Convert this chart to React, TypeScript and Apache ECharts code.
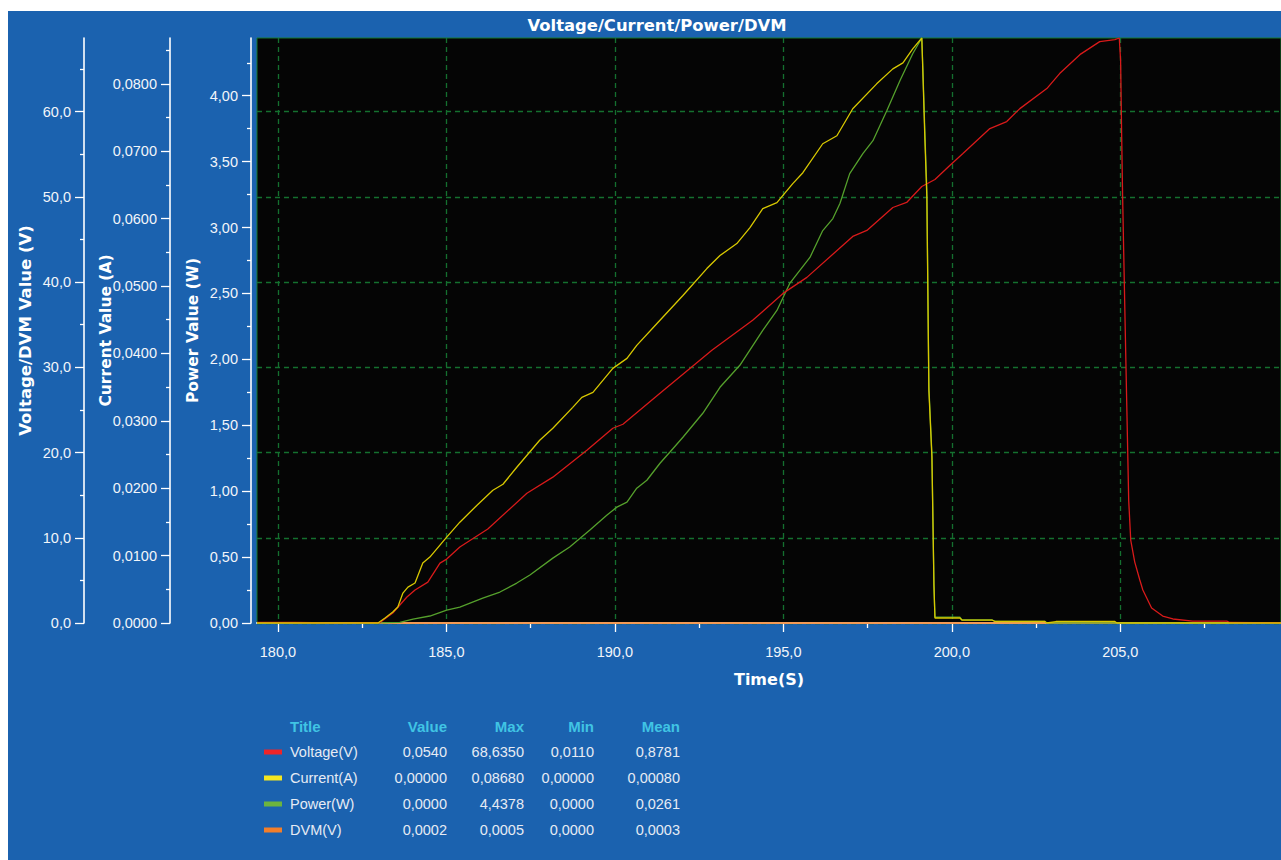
import React, { useEffect, useRef } from "react";
import * as echarts from "echarts";

// ---- time axis ----
const TIME_MIN = 179.38;
const TIME_MAX = 209.77;
const timeTicks = [180, 185, 190, 195, 200, 205];
const timeMinorTicks = [182.5, 187.5, 192.5, 197.5, 202.5, 207.5];

// ---- y axis ticks ----
const powerTicks = [0, 0.5, 1, 1.5, 2, 2.5, 3, 3.5, 4];
const powerMinorTicks = [0.25, 0.75, 1.25, 1.75, 2.25, 2.75, 3.25, 3.75, 4.25];
const currentTicks = [0, 0.01, 0.02, 0.03, 0.04, 0.05, 0.06, 0.07, 0.08];
const currentMinorTicks = [0.005, 0.015, 0.025, 0.035, 0.045, 0.055, 0.065, 0.075, 0.085];
const voltageTicks = [0, 10, 20, 30, 40, 50, 60];
const voltageMinorTicks = [5, 15, 25, 35, 45, 55, 65];

// ---- samples: [time (s), value] ----
const voltageSamples: [number, number][] = [
  [179.38, 0.08], [180.5, 0.06], [181.6, 0.011], [182.7, 0.05], [183.03, 0.05],
  [183.41, 1.17], [183.83, 3.05], [184.07, 3.87], [184.45, 4.8], [184.81, 7.03],
  [185.01, 7.5], [185.4, 8.91], [186.23, 11.02], [187.39, 15.23], [188.16, 17.11],
  [189.17, 20.27], [189.94, 22.85], [190.24, 23.32], [191.34, 26.95], [192.88, 31.99],
  [194.09, 35.51], [194.99, 38.67], [195.7, 40.55], [197.06, 45.35], [197.48, 46.06],
  [198.25, 48.75], [198.66, 49.34], [199.11, 51.21], [199.5, 52.03], [199.94, 53.67],
  [200.33, 55.08], [201.13, 58.01], [201.63, 58.83], [202.02, 60.35], [202.82, 62.7],
  [203.2, 64.46], [203.8, 66.68], [204.39, 68.21], [204.84, 68.44], [204.97, 68.635],
  [205.01, 65.98], [205.04, 57.54], [205.07, 49.92], [205.13, 37.85], [205.19, 26.13],
  [205.25, 14.41], [205.31, 9.73], [205.43, 7.15], [205.58, 5.04], [205.67, 3.87],
  [205.93, 1.76], [206.26, 0.82], [206.56, 0.47], [207.15, 0.23], [208.16, 0.23],
  [208.25, 0.06], [209.0, 0.05], [209.77, 0.054],
];

const currentSamples: [number, number][] = [
  [179.38, 0], [182.97, 0], [183.18, 0.00074], [183.41, 0.00163], [183.56, 0.00237],
  [183.71, 0.00444], [183.86, 0.00533], [184.07, 0.00593], [184.3, 0.00889], [184.51, 0.00978],
  [184.81, 0.01156], [185.01, 0.01274], [185.4, 0.01496], [185.91, 0.01748], [186.38, 0.0197],
  [186.68, 0.02059], [187.09, 0.02311], [187.77, 0.02711], [188.16, 0.02889], [188.75, 0.032],
  [189.02, 0.03348], [189.35, 0.03422], [189.94, 0.03778], [190.36, 0.03926], [190.65, 0.04119],
  [191.25, 0.04444], [192.02, 0.04859], [192.73, 0.05259], [193.12, 0.05452], [193.62, 0.0563],
  [194.01, 0.05867], [194.39, 0.06148], [194.81, 0.06237], [195.28, 0.06519], [195.58, 0.06681],
  [196.17, 0.07111], [196.59, 0.0723], [197.06, 0.0763], [197.77, 0.08], [198.25, 0.08222],
  [198.55, 0.08311], [198.84, 0.08519], [199.11, 0.0868], [199.14, 0.08193], [199.2, 0.072],
  [199.26, 0.06311], [199.32, 0.03452], [199.41, 0.02459], [199.44, 0.01526], [199.47, 0.00563],
  [199.5, 0.00074], [200.24, 0.00074], [200.3, 0.00044], [201.19, 0.00044], [201.28, 0.00022],
  [202.76, 0.00022], [202.82, 0], [203.09, 0.00022], [204.84, 0.00022], [204.9, 0], [209.77, 0],
];

const powerSamples: [number, number][] = [
  [179.38, 0], [183.0, 0], [183.62, 0.004], [184.01, 0.03], [184.51, 0.053],
  [185.01, 0.098], [185.4, 0.121], [186.08, 0.189], [186.59, 0.235], [187.09, 0.303],
  [187.48, 0.364], [188.16, 0.492], [188.66, 0.576], [189.26, 0.705], [189.76, 0.818],
  [190.06, 0.879], [190.36, 0.917], [190.65, 1.023], [190.95, 1.083], [191.34, 1.212],
  [191.63, 1.295], [192.02, 1.409], [192.61, 1.591], [193.12, 1.788], [193.71, 1.955],
  [194.39, 2.22], [194.81, 2.371], [195.19, 2.576], [195.79, 2.773], [196.17, 2.977],
  [196.47, 3.068], [196.68, 3.182], [196.97, 3.409], [197.36, 3.561], [197.66, 3.659],
  [198.07, 3.886], [198.46, 4.114], [198.84, 4.318], [199.11, 4.4378], [199.14, 4.22],
  [199.2, 3.73], [199.26, 3.28], [199.32, 1.79], [199.41, 1.28], [199.44, 0.79],
  [199.47, 0.29], [199.5, 0.045], [200.24, 0.045], [200.3, 0.024], [201.19, 0.024],
  [201.28, 0.013], [202.76, 0.013], [202.82, 0], [209.77, 0],
];

const dvmSamples: [number, number][] = [
  [179.38, 0.0003], [182.0, 0.0002], [185.5, 0.0004], [189.0, 0.0005], [193.0, 0.0003],
  [197.0, 0.0002], [201.0, 0.0], [205.0, 0.0003], [209.77, 0.0002],
];

// ---- statistics table ----
const tableHeaders = ["Title", "Value", "Max", "Min", "Mean"];
const seriesNames = ["Voltage(V)", "Current(A)", "Power(W)", "DVM(V)"];
const lastValues = ["0,0540", "0,00000", "0,0000", "0,0002"];
const maxValues = ["68,6350", "0,08680", "4,4378", "0,0005"];
const minValues = ["0,0110", "0,00000", "0,0000", "0,0000"];
const meanValues = ["0,8781", "0,00080", "0,0261", "0,0003"];

const lineColors = ["#d81a1a", "#d8c800", "#55a02c", "#f07a1e"];
const swatchColors = ["#ee2428", "#f4e620", "#6cb43e", "#f27e2a"];

const BLUE = "#1b62af";
const WHITE_TEXT = "#f2f5fa";
const GRID_GREEN = "#14702f";

const peak = (s: [number, number][]) => Math.max(...s.map((p) => p[1]));
const voltageMax = Math.max(peak(voltageSamples), peak(dvmSamples));
const currentMax = peak(currentSamples);
const powerMax = peak(powerSamples);

const comma = (digits: number) => (v: number) => v.toFixed(digits).replace(".", ",");

const tickFont = {
  color: WHITE_TEXT,
  fontFamily: "'Liberation Sans', Arial, sans-serif",
  fontSize: 14.5,
};
const nameFont = {
  color: "#ffffff",
  fontFamily: "'DejaVu Sans', sans-serif",
  fontWeight: "bold" as const,
  fontSize: 15.5,
};

function leftAxes(
  offset: number,
  max: number,
  ticks: number[],
  minorTicks: number[],
  interval: number,
  digits: number,
  name: string,
  nameGap: number,
  nameSize: number,
  split: boolean
) {
  return [
    {
      type: "value",
      position: "left",
      offset,
      min: 0,
      max,
      interval,
      name,
      nameLocation: "middle",
      nameGap,
      nameMoveOverlap: false,
      nameTextStyle: { ...nameFont, fontSize: nameSize },
      axisLine: { show: true, lineStyle: { color: "#ffffff", width: 1.6 } },
      axisTick: { show: true, customValues: ticks, length: 9, lineStyle: { color: "#ffffff", width: 1.3 } },
      axisLabel: { show: true, customValues: ticks, margin: 13, formatter: comma(digits), ...tickFont },
      splitLine: split
        ? { show: true, lineStyle: { color: GRID_GREEN, type: [5, 4], width: 1.3 } }
        : { show: false },
    },
    {
      type: "value",
      position: "left",
      offset,
      min: 0,
      max,
      interval,
      axisLine: { show: false },
      axisTick: { show: true, customValues: minorTicks, length: 4, lineStyle: { color: "#ffffff", width: 1.3 } },
      axisLabel: { show: false },
      splitLine: { show: false },
    },
  ];
}

function buildTable() {
  const colRight = [439, 516, 586, 672];
  const headerY = 715;
  const rowStep = 26;
  const nameX = 282;
  const els: any[] = [];
  tableHeaders.forEach((h, i) => {
    els.push({
      type: "text",
      x: i === 0 ? nameX : colRight[i - 1],
      y: headerY,
      style: {
        text: h,
        fill: "#40c4e4",
        fontFamily: "'Liberation Sans', Arial, sans-serif",
        fontWeight: "bold",
        fontSize: 15,
        align: i === 0 ? "left" : "right",
        verticalAlign: "middle",
      },
    });
  });
  const cols = [lastValues, maxValues, minValues, meanValues];
  seriesNames.forEach((n, r) => {
    const y = headerY + rowStep * (r + 1);
    els.push({
      type: "rect",
      shape: { x: 256, y: y - 2.5, width: 18, height: 5 },
      style: { fill: swatchColors[r] },
    });
    els.push({
      type: "text",
      x: nameX,
      y,
      style: { text: n, fill: "#e6ebf4", ...tickFont, fontSize: 14.5, align: "left", verticalAlign: "middle" },
    });
    cols.forEach((col, c) => {
      els.push({
        type: "text",
        x: colRight[c],
        y,
        style: { text: col[r], fill: "#e6ebf4", ...tickFont, fontSize: 14.5, align: "right", verticalAlign: "middle" },
      });
    });
  });
  return els;
}

export default function App() {
  const ref = useRef<HTMLDivElement>(null);

  useEffect(() => {
    if (!ref.current) return;
    const chart = echarts.init(ref.current, undefined, { renderer: "svg" });

    const lineSeries = (name: string, data: [number, number][], yAxisIndex: number, color: string, clip = true) => ({
      name,
      type: "line",
      data,
      xAxisIndex: 0,
      yAxisIndex,
      showSymbol: false,
      symbol: "none",
      silent: true,
      clip,
      lineStyle: { color, width: 1.3 },
    });

    chart.setOption({
      animation: false,
      backgroundColor: BLUE,
      grid: {
        left: 249,
        top: 27,
        right: 0,
        bottom: 237,
        show: true,
        backgroundColor: "#050505",
        borderColor: "#17782e",
        borderWidth: 1,
      },
      xAxis: [
        {
          type: "value",
          position: "bottom",
          min: TIME_MIN,
          max: TIME_MAX,
          splitNumber: 6,
          offset: 6,
          name: "Time(S)",
          nameLocation: "middle",
          nameGap: 42,
          nameMoveOverlap: false,
          nameTextStyle: { ...nameFont, fontSize: 16 },
          axisLine: { show: true, lineStyle: { color: "#ffffff", width: 1.8 } },
          axisTick: { show: true, customValues: timeTicks, length: 9, lineStyle: { color: "#ffffff", width: 1.3 } },
          axisLabel: { show: true, customValues: timeTicks, margin: 15, formatter: comma(1), ...tickFont },
          splitLine: { show: true, lineStyle: { color: GRID_GREEN, type: [5, 4], width: 1.3 } },
        },
        {
          type: "value",
          position: "bottom",
          min: TIME_MIN,
          max: TIME_MAX,
          splitNumber: 6,
          offset: 6,
          axisLine: { show: false },
          axisTick: { show: true, customValues: timeMinorTicks, length: 5, lineStyle: { color: "#ffffff", width: 1.3 } },
          axisLabel: { show: false },
          splitLine: { show: false },
        },
      ],
      yAxis: [
        // 0,1: voltage / DVM
        ...leftAxes(173, voltageMax, voltageTicks, voltageMinorTicks, 10, 1, "Voltage/DVM Value (V)", 50, 16.5, true),
        // 2,3: current
        ...leftAxes(87, currentMax, currentTicks, currentMinorTicks, 0.01, 4, "Current Value (A)", 56, 15.5, false),
        // 4,5: power
        ...leftAxes(6, powerMax, powerTicks, powerMinorTicks, 0.5, 2, "Power Value (W)", 50, 15.5, false),
      ],
      series: [
        lineSeries("DVM(V)", dvmSamples, 0, lineColors[3], false),
        lineSeries("Power(W)", powerSamples, 4, lineColors[2]),
        lineSeries("Voltage(V)", voltageSamples, 0, lineColors[0]),
        lineSeries("Current(A)", currentSamples, 2, lineColors[1]),
      ],
      graphic: [
        {
          type: "text",
          x: 649,
          y: 14,
          style: {
            text: "Voltage/Current/Power/DVM",
            fill: "#ffffff",
            fontFamily: "'DejaVu Sans', sans-serif",
            fontWeight: "bold",
            fontSize: 16.4,
            align: "center",
            verticalAlign: "middle",
          },
        },
        ...buildTable(),
      ],
    });

    return () => chart.dispose();
  }, []);

  return (
    <div style={{ position: "absolute", left: 0, top: 0, width: 1281, height: 860, background: "#ffffff" }}>
      <div ref={ref} style={{ position: "absolute", left: 8, top: 11, width: 1273, height: 849 }} />
    </div>
  );
}
